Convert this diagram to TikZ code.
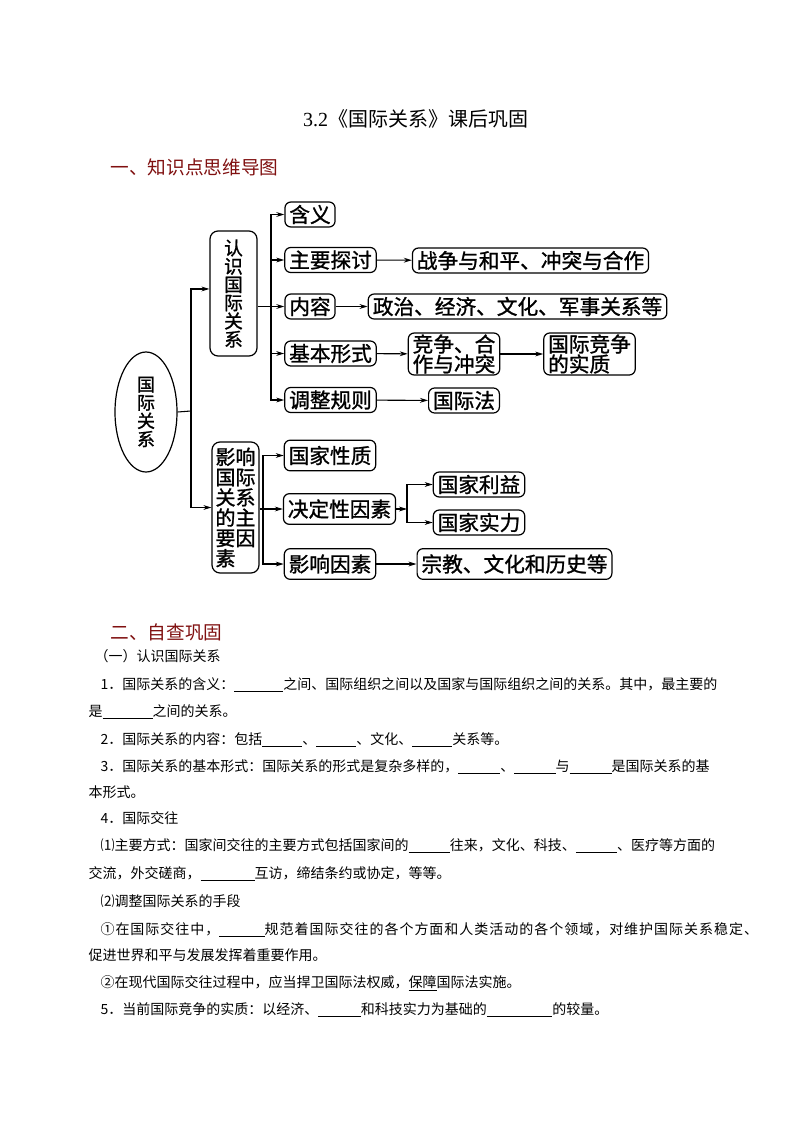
\documentclass[tikz,border=0pt]{standalone}
\usepackage{fontspec}
\setmainfont{Noto Sans CJK SC}
\newfontfamily\latinserif{Liberation Serif}
\usetikzlibrary{positioning,arrows.meta,shapes.geometric}
\definecolor{headred}{RGB}{128,16,16}
\newcommand{\blank}[1]{\underline{\hspace{#1pt}}}
\newcommand{\heavy}{\addfontfeature{FakeBold=1.2}}

\begin{document}
\begin{tikzpicture}[
        x=0.75pt, y=-0.75pt, line width=0.8pt,
        >={Stealth[length=6pt,width=3.6pt]},
        box/.style={draw,rounded corners=4.5pt,line width=0.9pt,inner xsep=3.3pt,inner ysep=1pt,
          minimum height=18.75pt,font=\fontsize{15.5}{15}\selectfont\heavy},
        tallbox/.style={box,minimum height=23pt},
        vbox/.style={draw,rounded corners=6pt,line width=0.9pt,align=center,inner sep=0pt},
        txt/.style={anchor=base west,inner sep=0pt,font=\fontsize{10.5}{12}\selectfont},
        head/.style={anchor=west,inner sep=0pt,text=headred,font=\fontsize{14}{16}\selectfont},
      ]
      \useasboundingbox (0,0) rectangle (794,1123);
      \fill[white] (0,0) rectangle (794,1123);

      % Title
      \node[inner sep=0pt,font=\fontsize{15}{18}\selectfont] (title) at (415.5,119) {{\latinserif 3.2}《国际关系》课后巩固};
      \node[head] (h1) at (110,167) {一、知识点思维导图};

      % Root
      \node[ellipse,draw,line width=0.9pt,minimum width=46.5pt,minimum height=90pt,inner sep=0pt,align=center,
        font=\fontsize{13.5}{13.7}\selectfont\heavy] (root) at (146,412) {国\\际\\关\\系};

      % Upper branch
      \node[vbox,minimum width=35.25pt,minimum height=93.75pt,font=\fontsize{14}{13.7}\selectfont\heavy] (rs) at (233.5,293.5) {认\\识\\国\\际\\关\\系};
      \node[box] (yi) at (310,214.5) {含义};
      \node[box] (tao) at (330.5,260) {主要探讨};
      \node[box] (zz) at (530.5,260.5) {战争与和平、冲突与合作};
      \node[box] (nr) at (310,306.5) {内容};
      \node[box,minimum width=224pt] (zj) at (517.5,306.5) {政治、经济、文化、军事关系等};
      \node[box] (jb) at (330.5,353.5) {基本形式};
      \node[box,align=left,minimum height=31.5pt] (jz) at (454,354) {竞争、合\\作与冲突};
      \node[box,align=left,minimum height=31.5pt] (sz) at (589.5,354) {国际竞争\\的实质};
      \node[box] (tz) at (330.5,400) {调整规则};
      \node[box] (gjf) at (464,400.5) {国际法};

      % Lower branch
      \node[vbox,align=left,minimum width=35.25pt,minimum height=98.25pt,font=\fontsize{15}{15.2}\selectfont\heavy] (yx) at (235.5,507.5) {影响\\国际\\关系\\的主\\要因\\素};
      \node[tallbox] (xz) at (330,455.5) {国家性质};
      \node[tallbox] (jd) at (339.5,509) {决定性因素};
      \node[tallbox] (ys) at (330,564) {影响因素};
      \node[box] (ly) at (479,484.5) {国家利益};
      \node[box] (sl) at (479,522.5) {国家实力};
      \node[tallbox] (zj2) at (514.5,564) {宗教、文化和历史等};

      % Connectors
      \coordinate (trunk) at (191,411);
      \coordinate (bus1) at (271,306.5);
      \coordinate (bus2) at (263,509);
      \coordinate (bus3) at (407,509);
      \draw (root.east) -- (trunk);
      \draw[->] (trunk) |- ([yshift=3.4pt]rs.west);
      \draw[->] (trunk) |- (yx.west);
      \draw[->] (rs.east |- nr.west) -- (nr.west);
      \foreach \n in {yi,tao,jb,tz}
        \draw[->] (bus1) |- (\n.west);
      \draw[->] (yx.east |- jd.west) -- (jd.west);
      \foreach \n in {xz,ys}
        \draw[->] (bus2) |- (\n.west);
      \draw[->] (jd.east) -- (bus3);
      \foreach \n in {ly,sl}
        \draw[->] (bus3) |- (\n.west);
      \draw[->] (tao) -- (zz);
      \draw[->] (nr) -- (zj);
      \draw[->] (jb) -- (jz);
      \draw[->] (jz) -- (sz);
      \draw[->] (tz) -- (gjf);
      \draw[->] (ys) -- (zj2);

      % Exercises
      \node[head] (h2) at (110,632) {二、自查巩固};
      \node[txt] (l0) at (94,661.3) {（一）认识国际关系};
      \node[txt] (l1) at (100,689.3) {1．国际关系的含义：\blank{36.75}之间、国际组织之间以及国家与国际组织之间的关系。其中，最主要的};
      \node[txt] (l2) at (88,716.3) {是\blank{37.5}之间的关系。};
      \node[txt] (l3) at (100,744.3) {2．国际关系的内容：包括\blank{30}、\blank{30}、文化、\blank{30}关系等。};
      \node[txt] (l4) at (100,771.3) {3．国际关系的基本形式：国际关系的形式是复杂多样的，\blank{31.5}、\blank{31}与\blank{31.5}是国际关系的基};
      \node[txt] (l5) at (88,797.3) {本形式。};
      \node[txt] (l6) at (100,823.3) {4．国际交往};
      \node[txt] (l7) at (100,850.3) {⑴主要方式：国家间交往的主要方式包括国家间的\blank{31}往来，文化、科技、\blank{31}、医疗等方面的};
      \node[txt] (l8) at (88,878.3) {交流，外交磋商，\blank{40.5}互访，缔结条约或协定，等等。};
      \node[txt] (l9) at (100,906.3) {⑵调整国际关系的手段};
      \node[txt] (l10) at (100,934.3) {\addfontfeature{LetterSpace=7}①在国际交往中，\blank{34}规范着国际交往的各个方面和人类活动的各个领域，对维护国际关系稳定、};
      \node[txt] (l11) at (88,960.3) {促进世界和平与发展发挥着重要作用。};
      \node[txt] (l12) at (100,987.3) {②在现代国际交往过程中，应当捍卫国际法权威，\underline{保障}国际法实施。};
      \node[txt] (l13) at (100,1014.3) {5．当前国际竞争的实质：以经济、\blank{32}和科技实力为基础的\blank{49}的较量。};
    \end{tikzpicture}
\end{document}
